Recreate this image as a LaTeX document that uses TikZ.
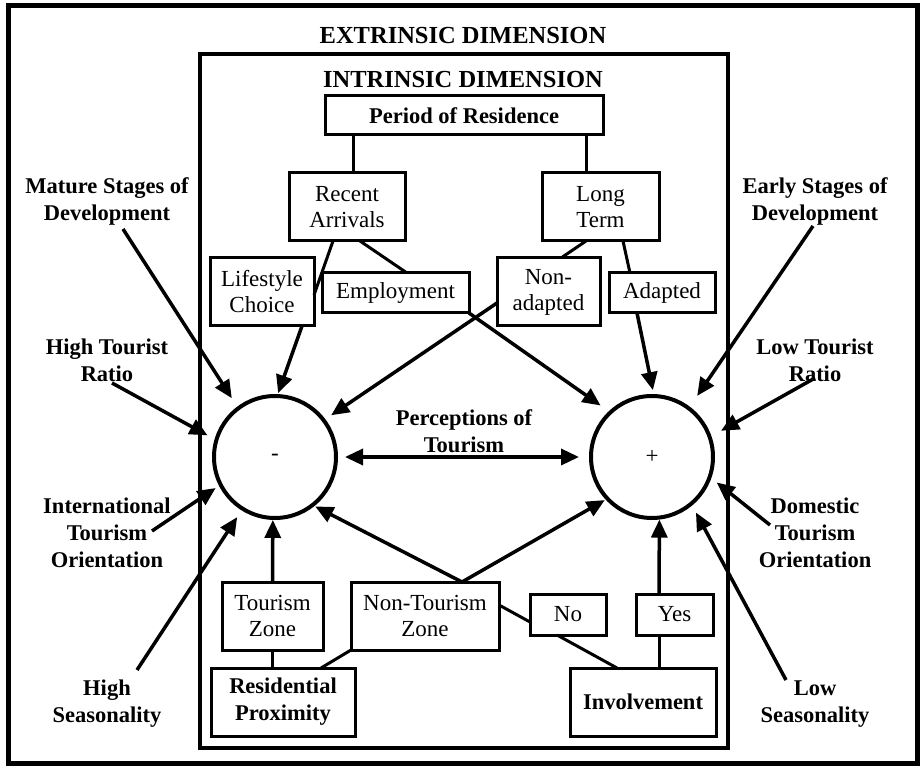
\documentclass[tikz,border=0pt]{standalone}
\usepackage{fontspec}
\setmainfont{Liberation Serif}
\usetikzlibrary{arrows.meta}
\begin{document}
\begin{tikzpicture}[x=1pt,y=-1pt,
  box/.style={draw, line width=3pt, inner sep=0pt, outer sep=0pt, align=center, font=\fontsize{23}{26}\selectfont},
  bbox/.style={box, font=\fontsize{22.5}{27}\selectfont\bfseries},
  lbl/.style={align=center, inner sep=0pt, font=\fontsize{22.5}{27}\selectfont\bfseries},
  ttl/.style={inner sep=0pt, font=\fontsize{24.5}{29}\selectfont\bfseries},
  circ/.style={draw, circle, line width=4pt, minimum size=122pt, inner sep=0pt, outer sep=0pt, font=\fontsize{23}{26}\selectfont},
  link/.style={line width=3pt},
  tip/.tip={Triangle[length=18pt,width=16pt]},
  arr/.style={line width=3.5pt, -tip},
  darr/.style={line width=3.5pt, tip-tip},
]
\useasboundingbox (0,0) rectangle (922,767);
% frames
\draw[line width=5pt] (8,6) rectangle (917,763);
\draw[line width=4pt] (200,54) rectangle (728,748);
% titles
\node[ttl] (ext) at (463,36) {EXTRINSIC DIMENSION};
\node[ttl] (int) at (463,80) {INTRINSIC DIMENSION};
% boxes
\node[bbox, minimum width=278pt, minimum height=39pt] (period) at (464,115.5) {Period of Residence};
\node[box, minimum width=116pt, minimum height=68pt] (recent) at (347,207) {Recent\\Arrivals};
\node[box, minimum width=117pt, minimum height=68pt] (longterm) at (600.5,207) {Long\\Term};
\node[box, minimum width=104pt, minimum height=68pt] (lifestyle) at (262,292) {Lifestyle\\Choice};
\node[box, minimum width=147pt, minimum height=40pt] (employment) at (395.5,293) {Employment};
\node[box, minimum width=103pt, minimum height=68pt] (nonadapted) at (548.5,292) {Non-\\adapted};
\node[box, minimum width=106pt, minimum height=40pt] (adapted) at (662,293) {Adapted};
\node[box, minimum width=101pt, minimum height=68pt] (tzone) at (272.5,616) {Tourism\\Zone};
\node[box, minimum width=148pt, minimum height=68pt] (ntzone) at (425,616) {Non-Tourism\\Zone};
\node[box, minimum width=76pt, minimum height=41pt] (no) at (568,614.5) {No};
\node[box, minimum width=77pt, minimum height=41pt] (yes) at (674.5,614.5) {Yes};
\node[bbox, minimum width=144pt, minimum height=68pt] (resid) at (283,702) {Residential\\Proximity};
\node[bbox, minimum width=146pt, minimum height=68pt] (involve) at (643,702) {Involvement};
% circles
\node[circ] (minus) at (275,457) {-};
\node[circ] (plus) at (652,457) {+};
\node[lbl] (percep) at (464,431) {Perceptions of\\Tourism};
% outside labels
\node[lbl] (mature) at (107,201) {Mature Stages of\\Development};
\node[lbl] (htr) at (107,360) {High Tourist\\Ratio};
\node[lbl] (intl) at (107,533) {International\\Tourism\\Orientation};
\node[lbl] (hseas) at (107,704) {High\\Seasonality};
\node[lbl] (early) at (815,201) {Early Stages of\\Development};
\node[lbl] (ltr) at (815,360) {Low Tourist\\Ratio};
\node[lbl] (dom) at (815,533) {Domestic\\Tourism\\Orientation};
\node[lbl] (lseas) at (815,704) {Low\\Seasonality};
% arrow start points near labels
\coordinate (matureS) at (123,229);
\coordinate (htrS) at (112,383);
\coordinate (intlS) at (152,531);
\coordinate (hseasS) at (137,670);
\coordinate (earlyS) at (813,226);
\coordinate (ltrS) at (815,378);
\coordinate (domS) at (770,525);
\coordinate (lseasS) at (786,680);
% tree links
\draw[link] ([xshift=6pt]recent.north |- period.south) -- ([xshift=6pt]recent.north);
\draw[link] ([xshift=-14pt]longterm.north |- period.south) -- ([xshift=-14pt]longterm.north);
\draw[link] ([xshift=-14pt]recent.south) -- ([yshift=-3pt]lifestyle.east);
\draw[link] ([xshift=13pt]recent.south) -- ([xshift=11.5pt]employment.north);
\draw[link] ([xshift=-14.5pt]longterm.south) -- ([xshift=12.5pt]nonadapted.north);
\draw[link] ([xshift=22.5pt]longterm.south) -- ([xshift=-32pt]adapted.north);
\draw[link] (tzone.south) -- (tzone.south |- resid.north);
\draw[link] ([xshift=38pt]resid.north) -- (ntzone.south west);
\draw[link] ([yshift=11pt]ntzone.east) -- ([yshift=-7.5pt]no.west);
\draw[link] ([xshift=-11pt]no.south) -- ([xshift=-26pt]involve.north);
\draw[link] ([xshift=-15.5pt]yes.south) -- ([xshift=-15.5pt]yes.south |- involve.north);
% arrows into minus
\draw[arr, shorten >=12pt] (matureS) -- (minus.127);
\draw[arr, shorten >=10pt] (htrS) -- (minus.164);
\draw[arr, shorten >=6pt] (intlS) -- (minus.207);
\draw[arr, shorten >=10pt] (hseasS) -- (minus.238);
\draw[arr, shorten >=3pt] ([xshift=-12pt]lifestyle.south east) -- (minus.88);
\draw[arr, shorten >=9pt] ([yshift=-11pt]nonadapted.west) -- (minus.37);
\draw[arr, shorten >=2pt] (tzone.north) -- (minus.268);
\draw[arr, shorten >=3pt] ([xshift=37pt]ntzone.north) -- (minus.308);
% arrows into plus
\draw[arr, shorten >=3pt] ([xshift=37pt]ntzone.north) -- (plus.223);
\draw[arr, shorten >=12pt] (employment.south east) -- (plus.133);
\draw[arr, shorten >=6pt] ([xshift=-25pt]adapted.south) -- (plus.88);
\draw[arr, shorten >=15pt] (earlyS) -- (plus.53);
\draw[arr, shorten >=13pt] (ltrS) -- (plus.19);
\draw[arr, shorten >=9pt] (domS) -- (plus.341);
\draw[arr, shorten >=10pt] (lseasS) -- (plus.310);
\draw[arr, shorten >=2pt] ([xshift=-15.5pt]yes.north) -- (plus.277);
% perceptions double arrow
\draw[darr, shorten <=9pt, shorten >=12pt] (minus.0) -- (plus.180);
\end{tikzpicture}
\end{document}
